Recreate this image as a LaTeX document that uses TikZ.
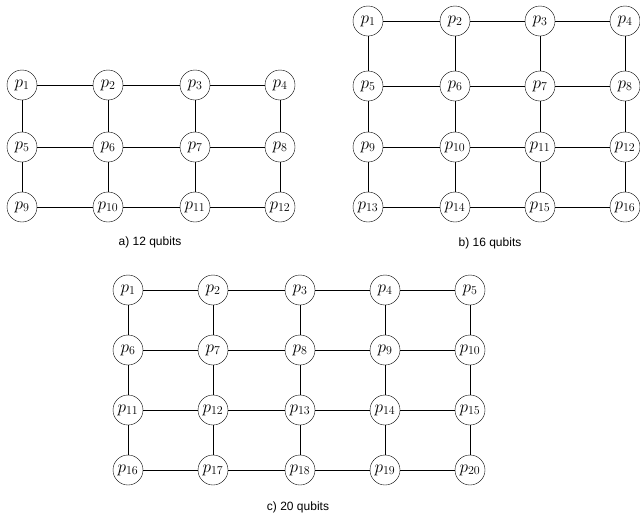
\documentclass[tikz,border=0pt]{standalone}
\usepackage{fontspec}
\setsansfont{Liberation Sans}
\begin{document}
\begin{tikzpicture}[x=1pt,y=-1pt,
  q/.style={circle,draw,minimum size=30pt,inner sep=0pt,font=\fontsize{17}{18}\selectfont},
  captxt/.style={font=\sffamily\fontsize{12}{14}\selectfont}]
\useasboundingbox (0,0) rectangle (640,520);
% a
\foreach \r/\y in {0/85,1/147,2/207}{
  \foreach \c/\x in {1/22,2/108,3/195,4/280}{
    \pgfmathtruncatemacro\n{\r*4+\c}
    \node[q] (a\n) at (\x,\y) {\makebox[0pt]{$p_{\n}$}};}}
% b
\foreach \r/\y in {0/21,1/86,2/147,3/207}{
  \foreach \c/\x in {1/368,2/455,3/540,4/625}{
    \pgfmathtruncatemacro\n{\r*4+\c}
    \node[q] (b\n) at (\x,\y) {\makebox[0pt]{$p_{\n}$}};}}
% c
\foreach \r/\y in {0/290,1/350,2/410,3/470}{
  \foreach \c/\x in {1/128,2/213,3/300,4/385,5/470}{
    \pgfmathtruncatemacro\n{\r*5+\c}
    \node[q] (c\n) at (\x,\y) {\makebox[0pt]{$p_{\n}$}};}}
% edges a
\foreach \r in {0,1,2}{\foreach \c in {1,2,3}{
  \pgfmathtruncatemacro\i{\r*4+\c}\pgfmathtruncatemacro\j{\i+1}
  \draw (a\i) -- (a\j);}}
\foreach \i in {1,...,8}{\pgfmathtruncatemacro\j{\i+4}\draw (a\i) -- (a\j);}
% edges b
\foreach \r in {0,1,2,3}{\foreach \c in {1,2,3}{
  \pgfmathtruncatemacro\i{\r*4+\c}\pgfmathtruncatemacro\j{\i+1}
  \draw (b\i) -- (b\j);}}
\foreach \i in {1,...,12}{\pgfmathtruncatemacro\j{\i+4}\draw (b\i) -- (b\j);}
% edges c
\foreach \r in {0,1,2,3}{\foreach \c in {1,2,3,4}{
  \pgfmathtruncatemacro\i{\r*5+\c}\pgfmathtruncatemacro\j{\i+1}
  \draw (c\i) -- (c\j);}}
\foreach \i in {1,...,15}{\pgfmathtruncatemacro\j{\i+5}\draw (c\i) -- (c\j);}
\node[captxt] (la) at (150,242) {a) 12 qubits};
\node[captxt] (lb) at (490,243) {b) 16 qubits};
\node[captxt] (lc) at (298,507) {c) 20 qubits};
\end{tikzpicture}
\end{document}
